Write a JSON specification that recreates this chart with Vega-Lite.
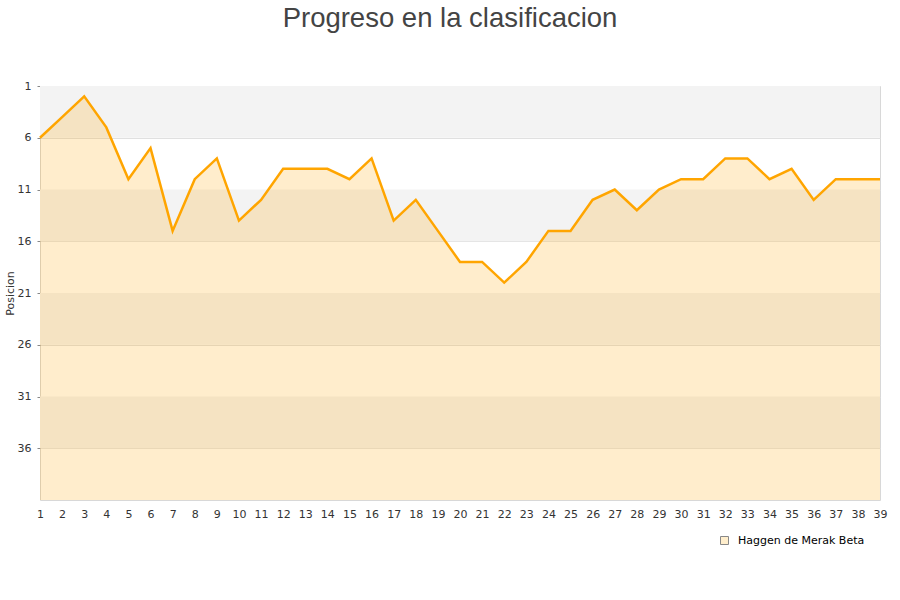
{
  "$schema": "https://vega.github.io/schema/vega-lite/v6.json",
  "autosize": "none",
  "width": 840,
  "height": 414,
  "padding": {"left": 40, "top": 86, "right": 20, "bottom": 100},
  "title": {
    "text": "Progreso en la clasificacion",
    "font": "Liberation Sans",
    "fontSize": 27.5,
    "fontWeight": "normal",
    "color": "#444444",
    "anchor": "middle",
    "dx": -10,
    "offset": 48
  },
  "datasets": {
    "bands": [
      {"desde": 1, "hasta": 6},
      {"desde": 11, "hasta": 16},
      {"desde": 21, "hasta": 26},
      {"desde": 31, "hasta": 36}
    ],
    "progreso": [
      {"jornada": 1, "posicion": 6},
      {"jornada": 2, "posicion": 4},
      {"jornada": 3, "posicion": 2},
      {"jornada": 4, "posicion": 5},
      {"jornada": 5, "posicion": 10},
      {"jornada": 6, "posicion": 7},
      {"jornada": 7, "posicion": 15},
      {"jornada": 8, "posicion": 10},
      {"jornada": 9, "posicion": 8},
      {"jornada": 10, "posicion": 14},
      {"jornada": 11, "posicion": 12},
      {"jornada": 12, "posicion": 9},
      {"jornada": 13, "posicion": 9},
      {"jornada": 14, "posicion": 9},
      {"jornada": 15, "posicion": 10},
      {"jornada": 16, "posicion": 8},
      {"jornada": 17, "posicion": 14},
      {"jornada": 18, "posicion": 12},
      {"jornada": 19, "posicion": 15},
      {"jornada": 20, "posicion": 18},
      {"jornada": 21, "posicion": 18},
      {"jornada": 22, "posicion": 20},
      {"jornada": 23, "posicion": 18},
      {"jornada": 24, "posicion": 15},
      {"jornada": 25, "posicion": 15},
      {"jornada": 26, "posicion": 12},
      {"jornada": 27, "posicion": 11},
      {"jornada": 28, "posicion": 13},
      {"jornada": 29, "posicion": 11},
      {"jornada": 30, "posicion": 10},
      {"jornada": 31, "posicion": 10},
      {"jornada": 32, "posicion": 8},
      {"jornada": 33, "posicion": 8},
      {"jornada": 34, "posicion": 10},
      {"jornada": 35, "posicion": 9},
      {"jornada": 36, "posicion": 12},
      {"jornada": 37, "posicion": 10},
      {"jornada": 38, "posicion": 10},
      {"jornada": 39, "posicion": 10}
    ]
  },
  "layer": [
    {
      "data": {"name": "bands"},
      "mark": {"type": "rect", "fill": "#f3f3f3"},
      "encoding": {
        "y": {"field": "desde", "type": "quantitative"},
        "y2": {"field": "hasta"}
      }
    },
    {
      "data": {"name": "progreso"},
      "mark": {"type": "area", "color": "#ffa500", "fillOpacity": 0.2},
      "encoding": {
        "x": {"field": "jornada", "type": "quantitative"},
        "y": {"field": "posicion", "type": "quantitative"},
        "y2": {"datum": 41}
      }
    },
    {
      "data": {"name": "progreso"},
      "mark": {"type": "line", "color": "#ffa500", "strokeWidth": 2.5},
      "encoding": {
        "x": {"field": "jornada", "type": "quantitative"},
        "y": {"field": "posicion", "type": "quantitative"}
      }
    },
    {
      "data": {"name": "progreso"},
      "mark": {"type": "point", "shape": "square", "filled": true, "opacity": 0, "stroke": "#888888"},
      "encoding": {
        "x": {"field": "jornada", "type": "quantitative"},
        "y": {"field": "posicion", "type": "quantitative"},
        "fill": {
          "datum": "Haggen de Merak Beta",
          "scale": {"range": ["#ffeecc"]},
          "legend": {
            "title": null,
            "orient": "none",
            "legendX": 679,
            "legendY": 449,
            "symbolType": "square",
            "symbolSize": 64,
            "symbolOpacity": 1,
            "symbolStrokeColor": "#888888",
            "symbolStrokeWidth": 1,
            "labelOffset": 8,
            "labelFont": "DejaVu Sans",
            "labelFontSize": 11,
            "labelColor": "#000000"
          }
        }
      }
    }
  ],
  "encoding": {
    "x": {
      "type": "quantitative",
      "scale": {"domain": [1, 39], "nice": false, "zero": false},
      "axis": {
        "title": null,
        "values": [1,2,3,4,5,6,7,8,9,10,11,12,13,14,15,16,17,18,19,20,21,22,23,24,25,26,27,28,29,30,31,32,33,34,35,36,37,38,39],
        "grid": false,
        "domain": false,
        "ticks": false,
        "labelPadding": 8,
        "labelFlush": false
      }
    },
    "y": {
      "type": "quantitative",
      "scale": {"domain": [1, 41], "reverse": true, "nice": false, "zero": false},
      "axis": {
        "title": "Posicion",
        "values": [1, 6, 11, 16, 21, 26, 31, 36],
        "grid": true,
        "gridColor": "#e0e0e0",
        "domain": false,
        "ticks": true,
        "tickSize": 3,
        "tickColor": "#888888",
        "labelPadding": 6,
        "titlePadding": 10,
        "titleX": -25
      }
    }
  },
  "config": {
    "view": {"stroke": "#d8d8d8"},
    "axis": {
      "labelFont": "DejaVu Sans",
      "labelFontSize": 11,
      "labelColor": "#333333",
      "titleFont": "DejaVu Sans",
      "titleFontSize": 11,
      "titleFontWeight": "normal",
      "titleColor": "#333333"
    }
  }
}
